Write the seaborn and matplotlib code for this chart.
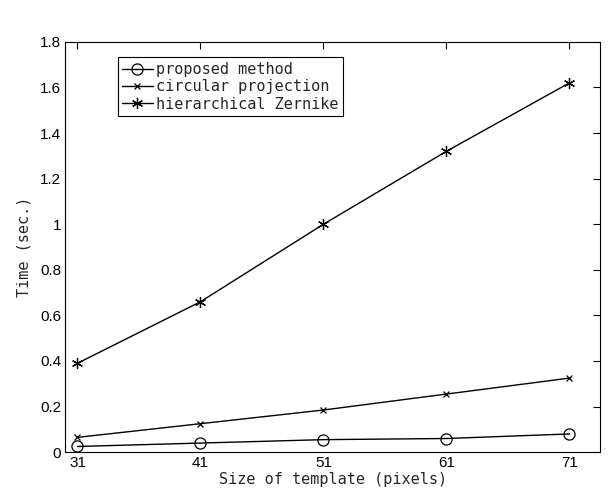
import matplotlib
matplotlib.use("Agg")
import matplotlib.pyplot as plt
import seaborn as sns
import pandas as pd

sizes = [31, 41, 51, 61, 71]
proposed = [0.025, 0.040, 0.055, 0.060, 0.080]
circular = [0.065, 0.125, 0.185, 0.255, 0.325]
zernike = [0.39, 0.66, 1.00, 1.32, 1.62]
series_names = ["proposed method", "circular projection", "hierarchical Zernike"]
y_ticks = [0, 0.2, 0.4, 0.6, 0.8, 1, 1.2, 1.4, 1.6, 1.8]
y_tick_labels = ["0", "0.2", "0.4", "0.6", "0.8", "1", "1.2", "1.4", "1.6", "1.8"]

df = pd.DataFrame({
    "size": sizes * 3,
    "time": proposed + circular + zernike,
    "method": [series_names[0]] * 5 + [series_names[1]] * 5 + [series_names[2]] * 5,
})

sns.set_style("white")
fig = plt.figure(figsize=(6.15, 4.98), dpi=100)
ax = fig.add_axes([0.106, 0.092, 0.870, 0.824])

markers = {series_names[0]: "o", series_names[1]: "x", series_names[2]: (6, 2, 0)}
sizes_m = {series_names[0]: 8, series_names[1]: 5, series_names[2]: 8}
for name in series_names:
    sub = df[df["method"] == name]
    sns.lineplot(data=sub, x="size", y="time", ax=ax, color="black", lw=1,
                 marker=markers[name], markersize=sizes_m[name],
                 markerfacecolor="none", markeredgecolor="black", markeredgewidth=0.9,
                 label=name)

ax.set_xlim(30.0, 73.5)
ax.set_ylim(0, 1.8)
ax.set_xticks(sizes)
ax.set_xticklabels([str(s) for s in sizes], fontfamily="Liberation Sans", fontsize=11)
ax.set_yticks(y_ticks)
ax.set_yticklabels(y_tick_labels, fontfamily="Liberation Sans", fontsize=11)
ax.tick_params(direction="in", top=True, right=True, length=5, width=0.8, colors="black", pad=3)
for s in ax.spines.values():
    s.set_color("black")
    s.set_linewidth(0.8)
ax.set_xlabel("Size of template (pixels)", fontfamily="DejaVu Sans Mono", fontsize=11, labelpad=1)
ax.set_ylabel("Time (sec.)", fontfamily="DejaVu Sans Mono", fontsize=11, labelpad=6)

leg = ax.legend(loc="upper left", bbox_to_anchor=(0.098, 0.962), frameon=True, fancybox=False,
                edgecolor="black", framealpha=1, prop={"family": "DejaVu Sans Mono", "size": 11},
                handlelength=2.0, handletextpad=0.2, borderpad=0.3, labelspacing=0.15,
                borderaxespad=0)
leg.get_frame().set_linewidth(0.8)

fig.savefig("out.png", dpi=100)
